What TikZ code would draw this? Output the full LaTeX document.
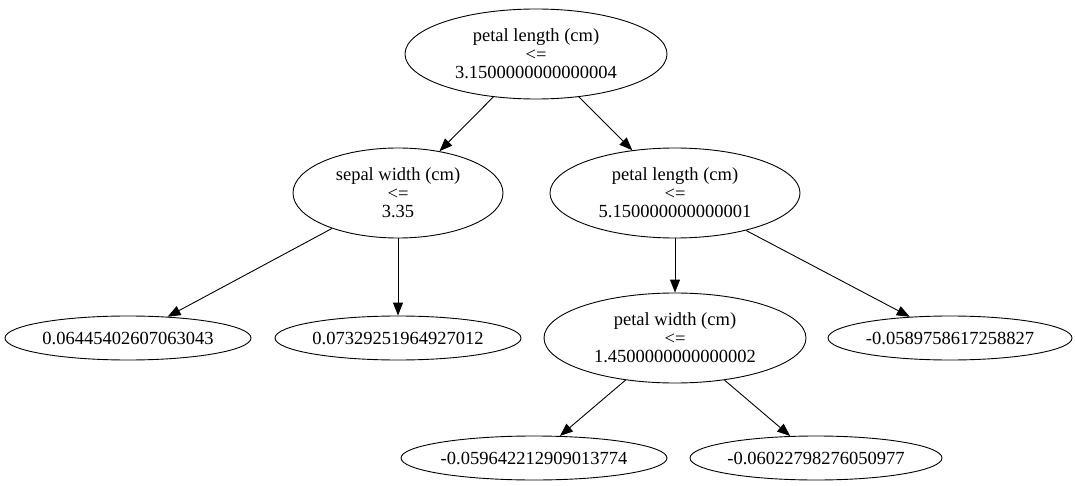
\documentclass[tikz,border=0pt]{standalone}
\usepackage{fontspec}
\setmainfont{Liberation Serif}
\usetikzlibrary{shapes.geometric,arrows.meta}
\begin{document}
\begin{tikzpicture}[x=1pt,y=-1pt,
  tnode/.style={ellipse,draw,line width=0.9pt,inner sep=0pt,align=center,
    font=\fontsize{18.5}{18.5}\selectfont},
  big/.style={tnode,minimum height=90pt},
  leaf/.style={tnode,minimum height=44pt},
  edge/.style={line width=0.9pt,-{Triangle[length=13pt,width=10pt]}}]
\useasboundingbox (0,0) rectangle (1075,486);
\node[big,minimum width=262pt] (root) at (536,54) {petal length (cm)\\<=\\3.1500000000000004};
\node[big,minimum width=210pt] (sw) at (398,193) {sepal width (cm)\\<=\\3.35};
\node[big,minimum width=250pt] (pl) at (675,193) {petal length (cm)\\<=\\5.150000000000001};
\node[leaf,minimum width=246pt] (l1) at (128,338) {0.06445402607063043};
\node[leaf,minimum width=246pt] (l2) at (398,338) {0.07329251964927012};
\node[big,minimum width=262pt] (pw) at (675,338) {petal width (cm)\\<=\\1.4500000000000002};
\node[leaf,minimum width=244pt] (l3) at (950,338) {-0.0589758617258827};
\node[leaf,minimum width=266pt] (l4) at (534,458) {-0.059642212909013774};
\node[leaf,minimum width=252pt] (l5) at (816,458) {-0.06022798276050977};
\draw[edge] (root) -- (sw);
\draw[edge] (root) -- (pl);
\draw[edge] (sw) -- (l1);
\draw[edge] (sw) -- (l2);
\draw[edge] (pl) -- (pw);
\draw[edge] (pl) -- (l3);
\draw[edge] (pw) -- (l4);
\draw[edge] (pw) -- (l5);
\end{tikzpicture}
\end{document}
